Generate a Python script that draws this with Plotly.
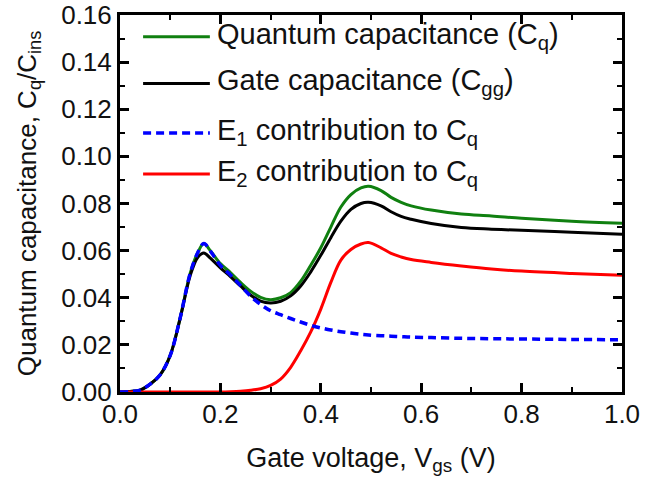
import plotly.graph_objects as go

# ---- data ----
vgs = [0.00, 0.02, 0.04, 0.06, 0.08, 0.10, 0.12, 0.14, 0.155, 0.167, 0.18, 0.20,
       0.22, 0.24, 0.26, 0.28, 0.30, 0.32, 0.34, 0.36, 0.38, 0.40, 0.42, 0.44,
       0.46, 0.48, 0.495, 0.52, 0.54, 0.56, 0.58, 0.62, 0.68, 0.74, 0.80, 0.90, 1.00]

cq_total = [0.0000, 0.0002, 0.0008, 0.0033, 0.0073, 0.0155, 0.0316, 0.0505, 0.0592, 0.0630, 0.0600, 0.0545,
            0.0507, 0.0465, 0.0428, 0.0402, 0.0392, 0.0400, 0.0422, 0.0470, 0.0538, 0.0612, 0.0700, 0.0785,
            0.0838, 0.0866, 0.0873, 0.0855, 0.0826, 0.0805, 0.0790, 0.0772, 0.0755, 0.0747, 0.0737, 0.0725, 0.0716]

cgg = [0.0000, 0.0002, 0.0008, 0.0033, 0.0073, 0.0155, 0.0314, 0.0495, 0.0572, 0.0590, 0.0568, 0.0527,
       0.0490, 0.0450, 0.0412, 0.0386, 0.0378, 0.0385, 0.0408, 0.0450, 0.0510, 0.0580, 0.0655, 0.0725,
       0.0775, 0.0800, 0.0805, 0.0790, 0.0765, 0.0745, 0.0733, 0.0715, 0.0698, 0.0691, 0.0686, 0.0678, 0.0670]

e1 = [0.0000, 0.0002, 0.0008, 0.0033, 0.0073, 0.0155, 0.0316, 0.0505, 0.0592, 0.0630, 0.0598, 0.0537,
      0.0497, 0.0452, 0.0407, 0.0372, 0.0345, 0.0328, 0.0312, 0.0297, 0.0283, 0.0272, 0.0263, 0.0256,
      0.0250, 0.0245, 0.0242, 0.0239, 0.0237, 0.0235, 0.0233, 0.0231, 0.0228, 0.0226, 0.0225, 0.0223, 0.0222]

e2 = [0.0000, 0.0000, 0.0000, 0.0000, 0.0000, 0.0000, 0.0000, 0.0000, 0.0000, 0.0000, 0.0000, 0.0000,
      0.0001, 0.0003, 0.0007, 0.0014, 0.0028, 0.0055, 0.0105, 0.0175, 0.0255, 0.0352, 0.0465, 0.0560,
      0.0605, 0.0628, 0.0634, 0.0612, 0.0588, 0.0573, 0.0562, 0.0550, 0.0535, 0.0522, 0.0513, 0.0503, 0.0495]

legend_labels = ["Quantum capacitance (C<sub>q</sub>)",
                 "Gate capacitance (C<sub>gg</sub>)",
                 "E<sub>1</sub> contribution to C<sub>q</sub>",
                 "E<sub>2</sub> contribution to C<sub>q</sub>"]
colors = ["#108010", "#000000", "#0000ff", "#ff0000"]
dashes = ["solid", "solid", "8px,5px", "solid"]
widths = [3, 3, 3.5, 3]

FONT = "Liberation Sans, Arial, sans-serif"

fig = go.Figure()
series = [cq_total, cgg, e2, e1]
order = [0, 1, 3, 2]
for s, k in zip(series, order):
    fig.add_trace(go.Scatter(x=vgs, y=s, mode="lines", name=legend_labels[k],
                             line=dict(color=colors[k], width=widths[k], dash=dashes[k],
                                       shape="spline", smoothing=1.0),
                             showlegend=False))

# manual legend (long line samples like the reference)
rows_y = [0.942, 0.818, 0.687, 0.578]
for i in range(4):
    fig.add_shape(type="line", xref="paper", yref="paper",
                  x0=0.046, x1=0.179, y0=rows_y[i], y1=rows_y[i],
                  line=dict(color=colors[i], width=widths[i], dash=dashes[i]))
    fig.add_annotation(xref="paper", yref="paper", x=0.19, y=rows_y[i] + 0.003,
                       xanchor="left", yanchor="middle", showarrow=False,
                       text=legend_labels[i], font=dict(size=29, color="#111", family=FONT))

axis_common = dict(showline=True, linewidth=3, linecolor="black", mirror="ticks",
                   ticks="inside", ticklen=9, tickwidth=3, tickcolor="black",
                   showgrid=False, zeroline=False, automargin=False,
                   ticklabeloverflow="allow",
                   tickfont=dict(size=26, color="#111", family=FONT))

fig.update_xaxes(range=[0, 1.0], dtick=0.2, tickformat=".1f", ticklabelstandoff=-3,
                 minor=dict(dtick=0.1, ticks="inside", ticklen=5, tickwidth=2, tickcolor="black"),
                 title=dict(text="Gate voltage, V<sub>gs</sub> (V)", font=dict(size=27, color="#111", family=FONT),
                            standoff=20),
                 **axis_common)
fig.update_yaxes(range=[0, 0.16], dtick=0.02, tickformat=".2f",
                 minor=dict(dtick=0.01, ticks="inside", ticklen=5, tickwidth=2, tickcolor="black"),
                 title=dict(text="Quantum capacitance, C<sub>q</sub>/C<sub>ins</sub>",
                            font=dict(size=26, color="#111", family=FONT), standoff=18),
                 **axis_common)

fig.update_layout(width=653, height=484, margin=dict(l=120, r=31, t=15, b=92),
                  plot_bgcolor="white", paper_bgcolor="white",
                  font=dict(family=FONT, color="#111"))

# remove the default 8px page margin so the figure fills the window exactly
fig.write_html("out.html", config={"displayModeBar": False},
               post_script="document.body.style.margin='0';")
